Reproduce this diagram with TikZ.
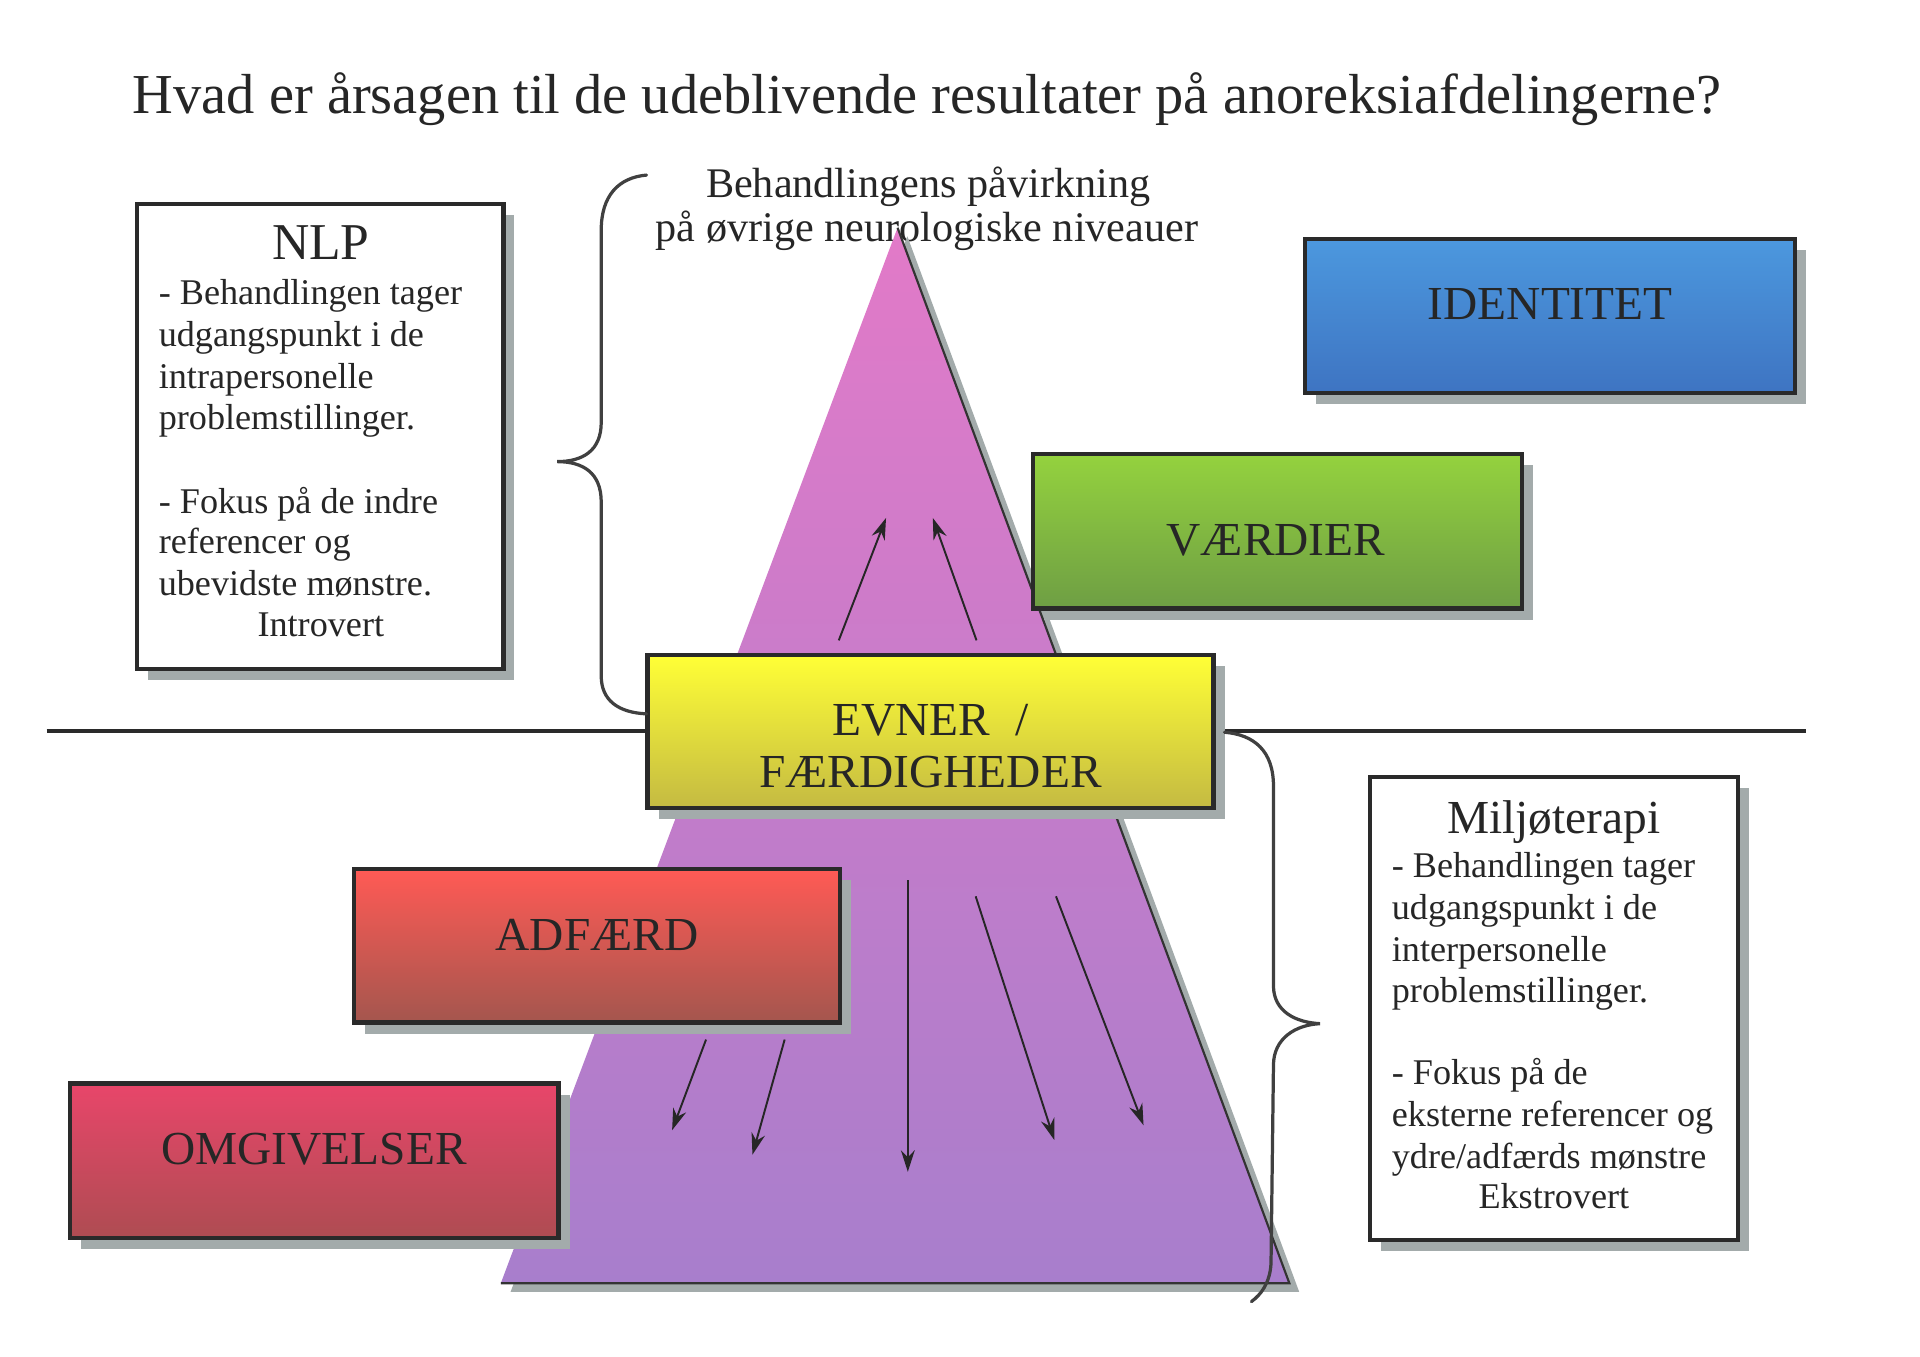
\documentclass[tikz,border=0pt]{standalone}
\usepackage{fontspec}
\setmainfont{Liberation Serif}
\usetikzlibrary{arrows.meta,shadows}
\definecolor{txt}{HTML}{262626}
\definecolor{boxline}{HTML}{2A2A2A}
\definecolor{shadowc}{HTML}{A3ABAB}
\definecolor{pyrtop}{HTML}{E27AC8}
\definecolor{pyrbot}{HTML}{A87ECC}
\definecolor{idtop}{HTML}{4C98DE}
\definecolor{idbot}{HTML}{3E74C2}
\definecolor{vatop}{HTML}{94D23E}
\definecolor{vabot}{HTML}{6E9E44}
\definecolor{evtop}{HTML}{FFFF36}
\definecolor{evbot}{HTML}{C4BA42}
\definecolor{adtop}{HTML}{FF5A55}
\definecolor{adbot}{HTML}{A4564E}
\definecolor{omtop}{HTML}{E8466A}
\definecolor{ombot}{HTML}{AE4C52}
\tikzset{
  lvlbox/.style={draw=boxline, line width=1pt, inner sep=0pt,
    drop shadow={shadow xshift=0.09cm, shadow yshift=-0.09cm, fill=shadowc, opacity=1}},
  txtbox/.style={lvlbox, fill=white},
  lbl/.style={font=\fontsize{11}{13}\selectfont, text=txt, anchor=base, inner sep=0pt},
  body/.style={font=\fontsize{8.4}{10}\selectfont, text=txt, anchor=base west, inner sep=0pt},
  bodyc/.style={body, anchor=base},
  head/.style={text=txt, anchor=base, inner sep=0pt},
  flow/.style={-{Stealth[length=5pt,width=3.2pt]}, line width=0.45pt, draw=black!85},
  bracestyle/.style={line width=0.75pt, draw=black!75, line cap=round},
}
\begin{document}
\begin{tikzpicture}[x=0.01cm,y=-0.01cm]
\useasboundingbox (0,0) rectangle (1568,1108.2);
\fill[white] (0,0) rectangle (1568,1108.2);

% title
\node[head, font=\fontsize{13.1}{15}\selectfont] (title) at (757,93)
  {Hvad er årsagen til de udeblivende resultater på anoreksiafdelingerne?};

% subtitle
\node[head, font=\fontsize{9.8}{12}\selectfont] (sub1) at (758,161) {Behandlingens påvirkning};
\node[head, font=\fontsize{9.8}{12}\selectfont] (sub2) at (757,197) {på øvrige neurologiske niveauer};

% horizontal divider
\coordinate (hlL) at (38,597);
\coordinate (hlR) at (1475,597);
\draw[line width=0.9pt, draw=boxline] (hlL) -- (hlR);

% pyramid
\coordinate (apex) at (733,186);
\coordinate (pbl) at (409,1048);
\coordinate (pbr) at (1053,1048);
\fill[shadowc] ([xshift=0.08cm,yshift=-0.07cm]apex) -- ([xshift=0.08cm,yshift=-0.07cm]pbr) -- ([xshift=0.08cm,yshift=-0.07cm]pbl) -- cycle;
\shade[top color=pyrtop, bottom color=pyrbot] (apex) -- (pbl) -- (pbr) -- cycle;
\draw[line width=0.5pt, draw=black!80] (apex) -- (pbr) -- (pbl);

% level boxes
\node[lvlbox, top color=idtop, bottom color=idbot, minimum width=4.00cm, minimum height=1.26cm] (ident) at (1266,258) {};
\node[lvlbox, top color=vatop, bottom color=vabot, minimum width=3.99cm, minimum height=1.26cm] (vaerd) at (1043.5,434) {};
\node[lvlbox, top color=evtop, bottom color=evbot, minimum width=4.62cm, minimum height=1.25cm] (evner) at (760,597.5) {};
\node[lvlbox, top color=adtop, bottom color=adbot, minimum width=3.97cm, minimum height=1.25cm] (adfaerd) at (487.5,772.5) {};
\node[lvlbox, top color=omtop, bottom color=ombot, minimum width=3.99cm, minimum height=1.26cm] (omgiv) at (256.5,948) {};

\node[lbl] (identL) at (1266,261) {IDENTITET};
\node[lbl] (vaerdL) at (1042,454) {VÆRDIER};
\node[lbl] (evnerL1) at (760,601) {EVNER\hspace{0.55em}/};
\node[lbl] (evnerL2) at (760,643) {FÆRDIGHEDER};
\node[lbl] (adfaerdL) at (487.5,776) {ADFÆRD};
\node[lbl] (omgivL) at (256.5,951) {OMGIVELSER};

% NLP box
\node[txtbox, minimum width=2.99cm, minimum height=3.79cm] (nlp) at (261.5,356.5) {};
\node[head, font=\fontsize{12}{14}\selectfont] (nlpT) at (262,212) {NLP};
\node[body] (nlp1) at (129,249) {- Behandlingen tager};
\node[body] (nlp2) at (129,283) {udgangspunkt i de};
\node[body] (nlp3) at (129,317) {intrapersonelle};
\node[body] (nlp4) at (129,351) {problemstillinger.};
\node[body] (nlp5) at (129,419) {- Fokus på de indre};
\node[body] (nlp6) at (129,452) {referencer og};
\node[body] (nlp7) at (129,486) {ubevidste mønstre.};
\node[bodyc] (nlp8) at (262,520) {Introvert};

% Miljoterapi box
\node[txtbox, minimum width=3.00cm, minimum height=3.78cm] (milj) at (1269,823.5) {};
\node[head, font=\fontsize{11}{13}\selectfont] (miljT) at (1269,681) {Miljøterapi};
\node[body] (milj1) at (1136,717) {- Behandlingen tager};
\node[body] (milj2) at (1136,751) {udgangspunkt i de};
\node[body] (milj3) at (1136,785) {interpersonelle};
\node[body] (milj4) at (1136,819) {problemstillinger.};
\node[body] (milj5) at (1136,886) {- Fokus på de};
\node[body] (milj6) at (1136,920) {eksterne referencer og};
\node[body] (milj7) at (1136,954) {ydre/adfærds mønstre};
\node[bodyc] (milj8) at (1269,987) {Ekstrovert};

% arrows up
\coordinate (ua1) at (685,523); \coordinate (ua1e) at (723.6,423);
\coordinate (ua2) at (797.5,523); \coordinate (ua2e) at (761.8,423);
\draw[flow] (ua1) -- (ua1e);
\draw[flow] (ua2) -- (ua2e);

% arrows down
\coordinate (da1) at (576.6,849); \coordinate (da1e) at (548.9,923);
\coordinate (da2) at (640.8,849); \coordinate (da2e) at (614.5,943);
\coordinate (da3) at (741.4,719); \coordinate (da3e) at (741.4,957);
\coordinate (da4) at (796.8,732); \coordinate (da4e) at (861,931);
\coordinate (da5) at (862.4,732); \coordinate (da5e) at (933.9,919);
\draw[flow] (da1) -- (da1e);
\draw[flow] (da2) -- (da2e);
\draw[flow] (da3) -- (da3e);
\draw[flow] (da4) -- (da4e);
\draw[flow] (da5) -- (da5e);

% left brace
\coordinate (lbTop) at (528,143);
\coordinate (lbTip) at (455,377);
\coordinate (lbBot) at (528,583);
\draw[bracestyle] (lbTop) .. controls (505,145) and (491,160) .. (491,188)
  -- (491,345) .. controls (491,368) and (476,377) .. (lbTip)
  .. controls (476,377) and (491,386) .. (491,410)
  -- (491,552) .. controls (491,572) and (505,582) .. (lbBot);

% right brace
\coordinate (rbTop) at (1000,598);
\coordinate (rbTip) at (1078,836);
\coordinate (rbBot) at (1022,1063);
\draw[bracestyle] (rbTop) .. controls (1024,600) and (1040,613) .. (1040,642)
  -- (1040,805) .. controls (1040,826) and (1058,835) .. (rbTip)
  .. controls (1058,837) and (1040,848) .. (1040,870)
  -- (1038,1032) .. controls (1037,1048) and (1030,1057) .. (rbBot);

\end{tikzpicture}
\end{document}
